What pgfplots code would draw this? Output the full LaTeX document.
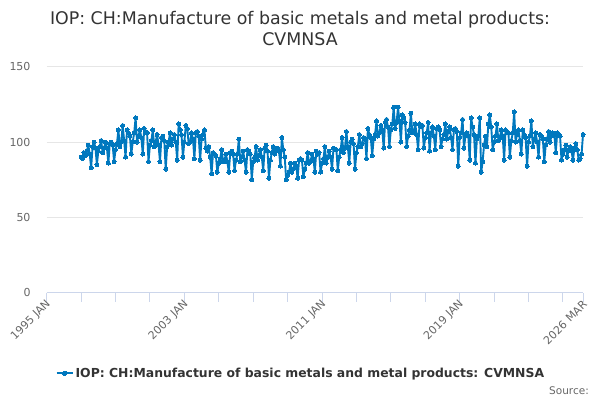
\documentclass[border=0pt]{standalone}
\usepackage{fontspec}
\setmainfont{DejaVu Sans}
\usepackage{pgfplots}
\usepackage{pgfplotstable}
\pgfplotsset{compat=1.18}
\definecolor{series}{RGB}{0,120,190}
\definecolor{titlegray}{HTML}{333333}
\definecolor{labelgray}{HTML}{666666}
\definecolor{gridgray}{HTML}{E6E6E6}
\definecolor{axisblue}{HTML}{CCD6EB}
\pgfplotstableread[row sep=\\]{
m v\\
24 90\\ 25 89\\ 26 93\\ 27 91\\ 28 94\\ 29 98\\ 30 92\\ 31 83\\ 32 97\\ 33 100\\ 34 96\\ 35 85\\
36 94\\ 37 97\\ 38 101\\ 39 93\\ 40 96\\ 41 100\\ 42 96\\ 43 86\\ 44 99\\ 45 100\\ 46 98\\ 47 87\\
48 95\\ 49 99\\ 50 108\\ 51 97\\ 52 100\\ 53 111\\ 54 101\\ 55 90\\ 56 108\\ 57 106\\ 58 104\\ 59 92\\
60 100\\ 61 106\\ 62 116\\ 63 100\\ 64 104\\ 65 108\\ 66 103\\ 67 92\\ 68 109\\ 69 107\\ 70 106\\ 71 87\\
72 98\\ 73 101\\ 74 108\\ 75 97\\ 76 100\\ 77 105\\ 78 98\\ 79 87\\ 80 103\\ 81 104\\ 82 101\\ 83 82\\
84 97\\ 85 100\\ 86 106\\ 87 98\\ 88 102\\ 89 105\\ 90 100\\ 91 88\\ 92 112\\ 93 108\\ 94 105\\ 95 90\\
96 100\\ 97 111\\ 98 109\\ 99 99\\ 100 100\\ 101 106\\ 102 102\\ 103 89\\ 104 106\\ 105 107\\ 106 104\\ 107 88\\
108 102\\ 109 105\\ 110 108\\ 111 96\\ 112 94\\ 113 97\\ 114 90\\ 115 79\\ 116 93\\ 117 92\\ 118 91\\ 119 80\\
120 86\\ 121 89\\ 122 95\\ 123 87\\ 124 88\\ 125 92\\ 126 87\\ 127 80\\ 128 93\\ 129 94\\ 130 92\\ 131 81\\
132 88\\ 133 92\\ 134 102\\ 135 87\\ 136 90\\ 137 94\\ 138 88\\ 139 80\\ 140 95\\ 141 94\\ 142 92\\ 143 75\\
144 87\\ 145 90\\ 146 97\\ 147 88\\ 148 91\\ 149 95\\ 150 90\\ 151 81\\ 152 96\\ 153 98\\ 154 94\\ 155 76\\
156 88\\ 157 93\\ 158 97\\ 159 92\\ 160 95\\ 161 96\\ 162 94\\ 163 84\\ 164 103\\ 165 95\\ 166 90\\ 167 75\\
168 78\\ 169 80\\ 170 86\\ 171 80\\ 172 82\\ 173 86\\ 174 84\\ 175 76\\ 176 88\\ 177 89\\ 178 88\\ 179 77\\
180 82\\ 181 86\\ 182 93\\ 183 86\\ 184 87\\ 185 92\\ 186 89\\ 187 80\\ 188 94\\ 189 92\\ 190 93\\ 191 80\\
192 86\\ 193 89\\ 194 97\\ 195 86\\ 196 90\\ 197 94\\ 198 90\\ 199 82\\ 200 96\\ 201 95\\ 202 95\\ 203 81\\
204 90\\ 205 95\\ 206 103\\ 207 93\\ 208 96\\ 209 107\\ 210 97\\ 211 86\\ 212 100\\ 213 102\\ 214 99\\ 215 82\\
216 93\\ 217 97\\ 218 105\\ 219 97\\ 220 99\\ 221 103\\ 222 102\\ 223 89\\ 224 109\\ 225 105\\ 226 103\\ 227 91\\
228 102\\ 229 105\\ 230 114\\ 231 104\\ 232 106\\ 233 111\\ 234 108\\ 235 96\\ 236 113\\ 237 115\\ 238 110\\ 239 97\\
240 108\\ 241 112\\ 242 123\\ 243 109\\ 244 113\\ 245 123\\ 246 114\\ 247 100\\ 248 118\\ 249 116\\ 250 113\\ 251 97\\
252 104\\ 253 108\\ 254 119\\ 255 106\\ 256 107\\ 257 112\\ 258 105\\ 259 95\\ 260 112\\ 261 110\\ 262 111\\ 263 96\\
264 103\\ 265 106\\ 266 113\\ 267 94\\ 268 106\\ 269 110\\ 270 104\\ 271 95\\ 272 109\\ 273 110\\ 274 108\\ 275 97\\
276 102\\ 277 105\\ 278 112\\ 279 102\\ 280 107\\ 281 110\\ 282 103\\ 283 95\\ 284 108\\ 285 109\\ 286 107\\ 287 84\\
288 103\\ 289 106\\ 290 115\\ 291 96\\ 292 104\\ 293 106\\ 294 104\\ 295 88\\ 296 116\\ 297 110\\ 298 105\\ 299 86\\
300 102\\ 301 104\\ 302 116\\ 303 80\\ 304 87\\ 305 98\\ 306 104\\ 307 97\\ 308 112\\ 309 118\\ 310 110\\ 311 95\\
312 100\\ 313 104\\ 314 112\\ 315 101\\ 316 103\\ 317 108\\ 318 104\\ 319 88\\ 320 108\\ 321 107\\ 322 106\\ 323 90\\
324 101\\ 325 106\\ 326 120\\ 327 100\\ 328 105\\ 329 108\\ 330 101\\ 331 92\\ 332 108\\ 333 105\\ 334 103\\ 335 84\\
336 100\\ 337 104\\ 338 114\\ 339 97\\ 340 102\\ 341 106\\ 342 100\\ 343 90\\ 344 105\\ 345 104\\ 346 102\\ 347 87\\
348 98\\ 349 102\\ 350 107\\ 351 100\\ 352 104\\ 353 106\\ 354 105\\ 355 93\\ 356 106\\ 357 105\\ 358 104\\ 359 88\\
360 92\\ 361 95\\ 362 98\\ 363 90\\ 364 95\\ 365 97\\ 366 94\\ 367 88\\ 368 96\\ 369 99\\ 370 95\\ 371 88\\
372 89\\ 373 92\\ 374 105\\
}\datatable

\begin{document}
\begin{tikzpicture}[x=1pt,y=1pt]
\path[use as bounding box] (0,0) rectangle (600,400);
\begin{axis}[
  at={(46.7pt,107.3pt)}, anchor=south west,
  scale only axis, width=536.3pt, height=226pt,
  xmin=0, xmax=374, ymin=0, ymax=150,
  axis x line*=bottom, axis y line*=left,
  x axis line style={draw=axisblue, line width=1pt, -},
  y axis line style={draw=none},
  tick align=outside, major tick length=9pt,
  xtick={0,96,192,288,374},
  xticklabels={1995 JAN,2003 JAN,2011 JAN,2019 JAN,2026 MAR},
  extra x ticks={24,48,72,120,144,168,216,240,264,312,336,360},
  extra x tick labels={},
  extra x tick style={xmajorgrids=false, tick style={draw=axisblue, line width=1pt}},
  x tick style={draw=axisblue, line width=1pt},
  ytick={0,50,100,150},
  y tick style={draw=none},
  ymajorgrids, grid style={draw=gridgray, line width=1pt},
  /pgf/number format/assume math mode=true,
  tick label style={font=\fontsize{11}{13}\selectfont, text=labelgray},
  x tick label style={rotate=45, anchor=east, inner sep=0pt, yshift=-2pt, xshift=1pt},
  y tick label style={anchor=east, inner sep=0pt, xshift=-7pt},
  clip=false,
  legend style={at={(0.474,-0.357)}, anchor=center, draw=none, fill=none,
    font=\bfseries\fontsize{12.4}{14}\selectfont, text=titlegray, inner sep=0pt},
  legend image code/.code={\draw[mark repeat=2,mark phase=2,#1] plot coordinates {(0pt,0pt)(8pt,0pt)(16pt,0pt)};},
]
\addplot[color=series, line width=1.9pt, line join=round, mark=*, mark size=2pt,
  mark options={solid, fill=series, draw=series, line width=0pt}]
  table[x=m, y=v]{\datatable};
\addlegendentry{IOP: CH:Manufacture of basic metals and metal products: CVMNSA}
\end{axis}
\node[anchor=base, text=titlegray, font=\fontsize{17.4}{20}\selectfont, inner sep=0pt] at (300,375.7) {IOP: CH:Manufacture of basic metals and metal products:};
\node[anchor=base, text=titlegray, font=\fontsize{17.4}{20}\selectfont, inner sep=0pt] at (300,354) {CVMNSA};
\node[anchor=base east, text=labelgray, font=\fontsize{10.5}{12}\selectfont, inner sep=0pt] at (589,6) {Source:};
\end{tikzpicture}
\end{document}
